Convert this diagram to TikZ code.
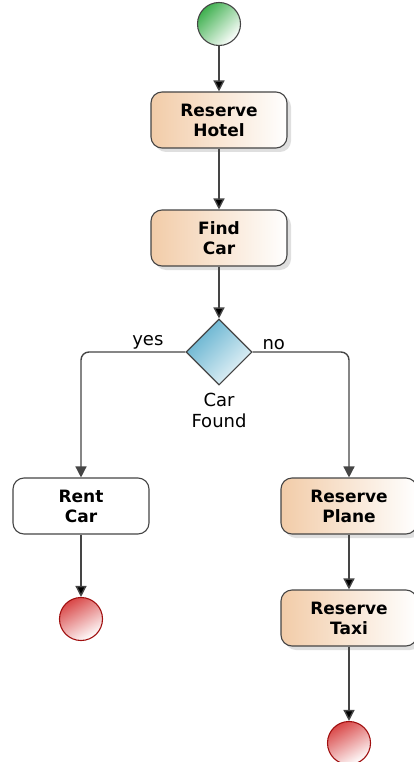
\documentclass[tikz,border=0pt]{standalone}
\usepackage{fontspec}
\setmainfont{DejaVu Sans}
\usetikzlibrary{arrows.meta,positioning,shapes.geometric,shadows}
\definecolor{colorline}{HTML}{454545}
\definecolor{coloraction}{HTML}{F2CCA8}
\definecolor{colordecision}{HTML}{5FB0CE}
\definecolor{colorstart}{HTML}{3FB04F}
\definecolor{colorend}{HTML}{D94848}
\definecolor{colorendline}{HTML}{A00F0F}
\tikzstyle{action}=[rectangle, rounded corners=11pt, minimum width=136pt, minimum height=56pt, draw=colorline, line width=1.1pt, left color=coloraction, right color=white, align=center, text=black, font=\bfseries\fontsize{17}{20}\selectfont, drop shadow={shadow xshift=4pt, shadow yshift=-4pt, fill=black!25}]
\tikzstyle{plainaction}=[rectangle, rounded corners=11pt, minimum width=136pt, minimum height=56pt, draw=colorline, line width=1.1pt, fill=white, align=center, text=black, font=\bfseries\fontsize{17}{20}\selectfont]
\tikzstyle{decision}=[diamond, minimum width=66pt, minimum height=66pt, inner sep=0pt, draw=colorline, line width=1.1pt, top color=colordecision, bottom color=colordecision!12, shading angle=45]
\tikzstyle{startstate}=[circle, minimum size=43pt, inner sep=0pt, draw=colorline, line width=1.1pt, top color=colorstart, bottom color=white, shading angle=45]
\tikzstyle{endstate}=[circle, minimum size=43pt, inner sep=0pt, draw=colorendline, line width=1.1pt, top color=colorend, bottom color=white, shading angle=30]
\tikzstyle{flowlabel}=[font=\fontsize{18}{21}\selectfont, text=black, inner sep=2pt]
\tikzstyle{flow}=[draw=colorline, line width=1.4pt]

\begin{document}
\begin{tikzpicture}[x=1pt, y=-1pt, ->, >={Triangle[length=11pt,width=11pt]}]
	\useasboundingbox (0,0) rectangle (413,762);

	\node[startstate] at (219, 24) (start) {};

	\node[action] at (219, 120) (hotel) {Reserve\\Hotel};

	\node[action] at (219, 238) (findcar) {Find\\Car};

	\node[decision] at (219, 352) (found) {};
	\node[flowlabel, align=center, below=5pt of found] (foundlabel) {Car\\Found};

	\node[plainaction] at (81, 506) (rentcar) {Rent\\Car};

	\node[action] at (349, 506) (plane) {Reserve\\Plane};

	\node[action] at (349, 618) (taxi) {Reserve\\Taxi};

	\node[endstate] at (81, 619) (endcar) {};

	\node[endstate] at (349, 743) (endtaxi) {};

	\path[flow] (start) edge (hotel);
	\path[flow] (hotel) edge (findcar);
	\path[flow] (findcar) edge (found);
	\draw[flow, rounded corners=8pt] (found.west) -| node[flowlabel, pos=0.18, above]{yes} (rentcar.north);
	\draw[flow, rounded corners=8pt] (found.east) -| node[flowlabel, pos=0.11, above]{no} (plane.north);
	\path[flow] (rentcar) edge (endcar);
	\path[flow] (plane) edge (taxi);
	\path[flow] (taxi) edge (endtaxi);

\end{tikzpicture}
\end{document}
